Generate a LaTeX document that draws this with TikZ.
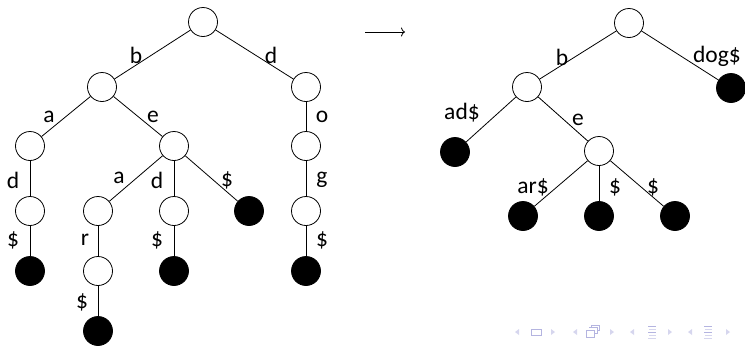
\documentclass[tikz,border=0pt]{standalone}
\usepackage{fontspec}
\setsansfont{Carlito}
\usetikzlibrary{arrows.meta}
\definecolor{navtri}{RGB}{214,214,238}
\definecolor{navico}{RGB}{180,180,224}
\begin{document}
\begin{tikzpicture}[x=1pt,y=-1pt,
  opennode/.style={circle,draw,minimum size=29pt,inner sep=0pt,line width=0.8pt},
  fullnode/.style={circle,draw,fill=black,minimum size=29pt,inner sep=0pt,line width=0.8pt},
  lab/.style={font=\sffamily\fontsize{23.5}{26}\selectfont,inner sep=0pt},
  edgeline/.style={line width=0.8pt},
  navt/.style={fill=navtri,draw=none},
  navi/.style={draw=navico,line width=1pt}]
\useasboundingbox (0,0) rectangle (745,346);
% ---------------- left tree ----------------
\node[opennode] (r)   at (203,22) {};
\node[opennode] (b)   at (102,87) {};
\node[opennode] (d)   at (306,87) {};
\node[opennode] (ba)  at (30,146) {};
\node[opennode] (be)  at (174,146) {};
\node[opennode] (do)  at (306,146) {};
\node[opennode] (bad) at (30,211) {};
\node[opennode] (bea) at (98,211) {};
\node[opennode] (bed) at (174,211) {};
\node[fullnode] (bes) at (249,211) {};
\node[opennode] (dog) at (306,211) {};
\node[fullnode] (bads) at (30,271) {};
\node[opennode] (bear) at (98,271) {};
\node[fullnode] (beds) at (174,271) {};
\node[fullnode] (dogs) at (306,271) {};
\node[fullnode] (bears) at (98,331) {};
\draw[edgeline] (r) -- (b);
\draw[edgeline] (r) -- (d);
\draw[edgeline] (b) -- (ba);
\draw[edgeline] (b) -- (be);
\draw[edgeline] (d) -- (do);
\draw[edgeline] (ba) -- (bad);
\draw[edgeline] (be) -- (bea);
\draw[edgeline] (be) -- (bed);
\draw[edgeline] (be) -- (bes);
\draw[edgeline] (do) -- (dog);
\draw[edgeline] (bad) -- (bads);
\draw[edgeline] (bea) -- (bear);
\draw[edgeline] (bed) -- (beds);
\draw[edgeline] (dog) -- (dogs);
\draw[edgeline] (bear) -- (bears);
\node[lab] (l1) at (136,55) {b};
\node[lab] (l2) at (271,55) {d};
\node[lab] (l3) at (49,117) {a};
\node[lab] (l4) at (153,117) {e};
\node[lab] (l5) at (322,117) {o};
\node[lab] (l6) at (13,180) {d};
\node[lab] (l7) at (119,178) {a};
\node[lab] (l8) at (157,180) {d};
\node[lab] (l9) at (227,180) {\$};
\node[lab] (l10) at (322,180) {g};
\node[lab] (l11) at (13,240) {\$};
\node[lab] (l12) at (85,240) {r};
\node[lab] (l13) at (157,240) {\$};
\node[lab] (l14) at (322,240) {\$};
\node[lab] (l15) at (82,302) {\$};
% ---------------- arrow ----------------
\coordinate (a1) at (365,32);
\coordinate (a2) at (405,32);
\draw[line width=0.8pt,-{To[length=4pt,width=9pt]}] (a1) -- (a2);
% ---------------- right tree ----------------
\node[opennode] (R)  at (629,23) {};
\node[opennode] (Rb) at (527,87) {};
\node[fullnode] (Rd) at (731,88) {};
\node[fullnode] (Ra) at (455,152) {};
\node[opennode] (Re) at (599,151) {};
\node[fullnode] (Rea) at (523,216) {};
\node[fullnode] (Red) at (599,216) {};
\node[fullnode] (Res) at (675,216) {};
\draw[edgeline] (R) -- (Rb);
\draw[edgeline] (R) -- (Rd);
\draw[edgeline] (Rb) -- (Ra);
\draw[edgeline] (Rb) -- (Re);
\draw[edgeline] (Re) -- (Rea);
\draw[edgeline] (Re) -- (Red);
\draw[edgeline] (Re) -- (Res);
\node[lab] (m1) at (562,57) {b};
\node[lab] (m2) at (717,56) {dog\$};
\node[lab] (m3) at (462,113) {ad\$};
\node[lab] (m4) at (578,120) {e};
\node[lab] (m5) at (533,187) {ar\$};
\node[lab] (m6) at (615,187) {\$};
\node[lab] (m7) at (653,187) {\$};
% ---------------- navigation symbols ----------------
\foreach \x in {517,575,632,690} {
  \fill[navt] (\x+2,329) -- (\x+2,335) -- (\x-2,332) -- cycle;
}
\foreach \x in {553,612,670,728} {
  \fill[navt] (\x-2,329) -- (\x-2,335) -- (\x+2,332) -- cycle;
}
\draw[navi] (531,329) rectangle (541,335);
\draw[navi] (586,330) rectangle (594,337);
\draw[navi] (589,328) -- (589,327) -- (597,327) -- (597,333) -- (594,333);
\draw[navi] (591,327) -- (591,325) -- (599,325) -- (599,330) -- (597,330);
\foreach \x in {652,708} {
  \draw[navi] (\x-4,326) -- (\x+4,326);
  \draw[navi,draw=navtri] (\x-3,329) -- (\x+4,329);
  \draw[navi] (\x-4,332) -- (\x+4,332);
  \draw[navi,draw=navtri] (\x-3,335) -- (\x+4,335);
  \draw[navi,draw=navtri] (\x-4,338) -- (\x+4,338);
}
\end{tikzpicture}
\end{document}
